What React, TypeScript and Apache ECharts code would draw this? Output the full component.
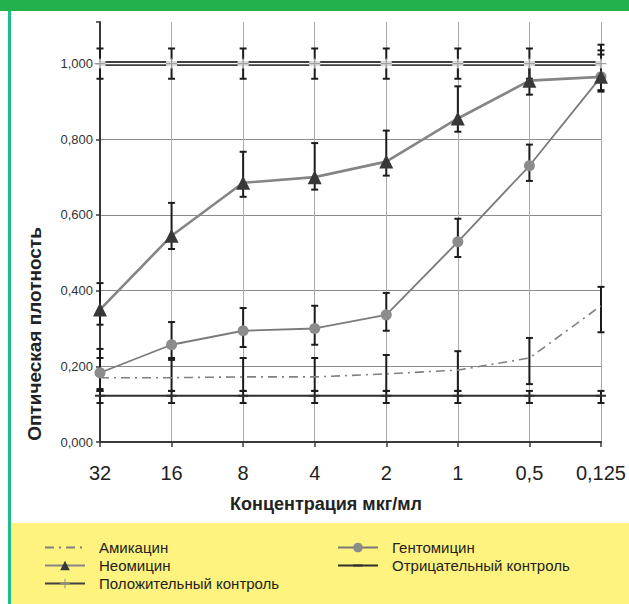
import React, { useEffect, useRef } from "react";
import * as echarts from "echarts";

const categories = ["32", "16", "8", "4", "2", "1", "0,5", "0,125"];

const amikacin = [0.17, 0.17, 0.172, 0.172, 0.18, 0.19, 0.222, 0.36];
const amikacinLow = [0.135, 0.135, 0.135, 0.135, 0.135, 0.135, 0.153, 0.29];
const amikacinHigh = [0.222, 0.222, 0.222, 0.222, 0.23, 0.24, 0.275, 0.41];

const neomycin = [0.35, 0.545, 0.685, 0.7, 0.741, 0.855, 0.955, 0.965];
const neomycinLow = [0.31, 0.51, 0.648, 0.667, 0.704, 0.82, 0.918, 0.926];
const neomycinHigh = [0.42, 0.632, 0.767, 0.79, 0.823, 0.94, 1.0, 1.035];

const gentamicin = [0.183, 0.257, 0.294, 0.3, 0.336, 0.529, 0.73, 0.965];
const gentamicinLow = [0.14, 0.217, 0.251, 0.257, 0.294, 0.489, 0.69, 0.93];
const gentamicinHigh = [0.246, 0.317, 0.354, 0.36, 0.394, 0.59, 0.786, 1.024];

const positive = [1, 1, 1, 1, 1, 1, 1, 1];
const positiveLow = [0.96, 0.96, 0.96, 0.96, 0.96, 0.96, 0.96, 0.96];
const positiveHigh = [1.04, 1.04, 1.04, 1.04, 1.04, 1.04, 1.04, 1.05];

const negative = [0.122, 0.122, 0.122, 0.122, 0.122, 0.122, 0.122, 0.122];
const negativeLow = [0.103, 0.103, 0.103, 0.103, 0.103, 0.103, 0.103, 0.103];
const negativeHigh = [0.135, 0.135, 0.135, 0.135, 0.135, 0.135, 0.135, 0.135];

const NAMES = {
  ami: "Амикацин",
  neo: "Неомицин",
  pos: "Положительный контроль",
  gen: "Гентомицин",
  neg: "Отрицательный контроль",
};

const PLUS = "path://M4.5,0 H5.5 V4.5 H10 V5.5 H5.5 V10 H4.5 V5.5 H0 V4.5 H4.5 Z";
const BAR = "path://M0,0 L0,0 Z M0,4 L10,4 L10,6 L0,6 Z M10,10 L10,10 Z";
const FONT = "'Liberation Sans', Arial, sans-serif";

function errSeries(low: number[], high: number[]) {
  return {
    type: "custom",
    z: 2,
    silent: true,
    encode: { x: 0, y: [1, 2] },
    data: low.map((l, i) => [i, l, high[i]]),
    renderItem: (params: any, api: any) => {
      const i = api.value(0);
      const lo = api.coord([i, api.value(1)]);
      const hi = api.coord([i, api.value(2)]);
      const w = 3.5;
      const style = { stroke: "#1c1c1c", lineWidth: 2 };
      return {
        type: "group",
        children: [
          { type: "line", shape: { x1: lo[0], y1: lo[1], x2: hi[0], y2: hi[1] }, style },
          { type: "line", shape: { x1: lo[0] - w, y1: lo[1], x2: lo[0] + w, y2: lo[1] }, style },
          { type: "line", shape: { x1: hi[0] - w, y1: hi[1], x2: hi[0] + w, y2: hi[1] }, style },
        ],
      };
    },
  };
}

export default function App() {
  const ref = useRef<HTMLDivElement>(null);
  useEffect(() => {
    document.body.style.margin = "0";
    const chart = echarts.init(ref.current!, null, { renderer: "svg" });
    const legendCommon = {
      orient: "vertical",
      padding: 0,
      itemWidth: 40,
      itemHeight: 12,
      itemGap: 3,
      textStyle: { fontSize: 15, fontFamily: FONT, color: "#222", lineHeight: 13, padding: [0, 0, 0, 9] },
    };
    chart.setOption({
      animation: false,
      backgroundColor: "#fff",
      grid: { left: 100, right: 26, top: 22, bottom: 162 },
      legend: [
        { ...legendCommon, left: 44, top: 540, data: [NAMES.ami, NAMES.neo, NAMES.pos] },
        { ...legendCommon, left: 337, top: 540, data: [NAMES.gen, NAMES.neg] },
      ],
      xAxis: {
        type: "category",
        data: categories,
        boundaryGap: false,
        axisLine: { lineStyle: { color: "#3a3a3a", width: 2 } },
        axisTick: { show: true, length: 5, lineStyle: { color: "#3a3a3a", width: 1.5 } },
        axisLabel: { fontSize: 20, color: "#222", fontFamily: FONT, margin: 21 },
        splitLine: { show: true, lineStyle: { color: "#aaaaaa", width: 1 } },
      },
      yAxis: {
        type: "value",
        min: 0,
        max: 1.11,
        interval: 0.2,
        axisLine: { show: true, lineStyle: { color: "#3a3a3a", width: 2 } },
        axisTick: { show: true, length: 4, lineStyle: { color: "#3a3a3a", width: 1.5 } },
        axisLabel: {
          fontSize: 13,
          color: "#333",
          fontFamily: FONT,
          margin: 7,
          formatter: (v: number) => (v > 1.05 ? "" : v.toFixed(3).replace(".", ",")),
        },
        splitLine: { show: true, showMaxLine: false, lineStyle: { color: "#8a8a8a", width: 1 } },
      },
      graphic: [
        { type: "rect", z: -10, shape: { x: 0, y: 0, width: 629, height: 11 }, style: { fill: "#22b14c" } },
        { type: "rect", z: -10, shape: { x: 8, y: 11, width: 3, height: 593 }, style: { fill: "#1dbd8c" } },
        { type: "rect", z: -10, shape: { x: 11, y: 523, width: 618, height: 81 }, style: { fill: "#fff37f" } },
        {
          type: "text",
          x: 34,
          y: 334,
          rotation: Math.PI / 2,
          style: {
            text: "Оптическая плотность",
            font: `bold 19px ${FONT}`,
            fill: "#222",
            align: "center",
            verticalAlign: "middle",
          },
        },
        {
          type: "text",
          x: 326,
          y: 504,
          style: {
            text: "Концентрация мкг/мл",
            font: `bold 18px ${FONT}`,
            fill: "#222",
            align: "center",
            verticalAlign: "middle",
          },
        },
      ],
      series: [
        errSeries(negativeLow, negativeHigh),
        errSeries(positiveLow, positiveHigh),
        errSeries(amikacinLow, amikacinHigh),
        errSeries(gentamicinLow, gentamicinHigh),
        errSeries(neomycinLow, neomycinHigh),
        {
          name: NAMES.neg,
          type: "line",
          z: 3,
          data: negative,
          symbol: BAR,
          symbolSize: 10,
          itemStyle: { color: "#2e2e2e" },
          lineStyle: { color: "#2e2e2e", width: 2 },
        },
        {
          name: NAMES.pos,
          type: "line",
          z: 3,
          data: positive,
          symbol: PLUS,
          symbolSize: 11,
          showSymbol: false,
          itemStyle: { color: "#8a8a8a" },
          lineStyle: { color: "#404040", width: 5 },
        },
        {
          type: "line",
          z: 4,
          silent: true,
          data: positive,
          symbol: "none",
          lineStyle: { color: "#fff", width: 1.2 },
        },
        {
          type: "scatter",
          z: 5,
          silent: true,
          data: positive,
          symbol: "rect",
          symbolSize: [11, 9],
          itemStyle: { color: "#fff" },
        },
        {
          type: "scatter",
          z: 6,
          silent: true,
          data: positive,
          symbol: PLUS,
          symbolSize: 11,
          itemStyle: { color: "#8a8a8a" },
        },
        {
          name: NAMES.ami,
          type: "line",
          z: 3,
          data: amikacin,
          symbol: "circle",
          showSymbol: false,
          itemStyle: { color: "transparent" },
          lineStyle: { color: "#808080", width: 1.6, type: [9, 5, 2, 5] },
        },
        {
          name: NAMES.gen,
          type: "line",
          z: 7,
          data: gentamicin,
          symbol: "circle",
          symbolSize: 11,
          itemStyle: { color: "#8c8c8c" },
          lineStyle: { color: "#7a7a7a", width: 1.8 },
        },
        {
          name: NAMES.neo,
          type: "line",
          z: 8,
          data: neomycin,
          symbol: "triangle",
          symbolSize: 14,
          itemStyle: { color: "#383838" },
          lineStyle: { color: "#858585", width: 2.6 },
        },
      ],
    });
    return () => chart.dispose();
  }, []);
  return <div ref={ref} style={{ width: 629, height: 604 }} />;
}
